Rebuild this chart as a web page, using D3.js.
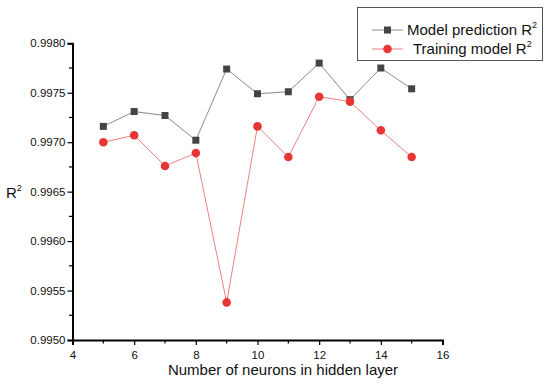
<!DOCTYPE html>
<html><head><meta charset="utf-8">
<script src="https://cdn.jsdelivr.net/npm/d3@7"></script>
<style>body{margin:0;background:#fff}svg{display:block;font-family:"Liberation Sans",Arial,sans-serif}</style>
</head><body><svg id="c" width="550" height="386"></svg>
<script>
const neurons = [5,6,7,8,9,10,11,12,13,14,15];
const modelPrediction = [0.99716,0.99731,0.99727,0.99702,0.99774,0.99749,0.99751,0.99780,0.99743,0.99775,0.99754];
const trainingModel = [0.99700,0.99707,0.99676,0.99689,0.99538,0.99716,0.99685,0.99746,0.99741,0.99712,0.99685];
const seriesNames = ["Model prediction R", "Training model R"];
const xTicks = [4,6,8,10,12,14,16];
const yTicks = [0.9950,0.9955,0.9960,0.9965,0.9970,0.9975,0.9980];

const svg = d3.select("#c");
const x = d3.scaleLinear().domain([4,16]).range([72.5,442.5]);
const y = d3.scaleLinear().domain([0.9950,0.9980]).range([340,43.3]);

const minorX = d3.range(5,16,2);
const minorY = d3.range(0,6).map(i=>0.99525+i*0.0005);
const g = svg.append("g");
g.selectAll(".mx").data(minorX).join("line")
  .attr("x1",d=>x(d)).attr("x2",d=>x(d)).attr("y1",340).attr("y2",343.5)
  .attr("stroke","#000").attr("stroke-width",1.2);
g.selectAll(".my").data(minorY).join("line")
  .attr("y1",d=>y(d)).attr("y2",d=>y(d)).attr("x1",72.5).attr("x2",69)
  .attr("stroke","#000").attr("stroke-width",1.2);

const xAxis = svg.append("g").attr("transform","translate(0,340)")
  .call(d3.axisBottom(x).tickValues(xTicks).tickSize(5).tickPadding(6).tickFormat(d3.format("d")));
const yAxis = svg.append("g").attr("transform","translate(72.5,0)")
  .call(d3.axisLeft(y).tickValues(yTicks).tickSize(5).tickPadding(2).tickFormat(d3.format(".4f")));
[xAxis,yAxis].forEach(a=>{
  a.select(".domain").attr("stroke","#000").attr("stroke-width",2);
  a.selectAll(".tick line").attr("stroke","#000").attr("stroke-width",1.2);
  a.selectAll(".tick text").attr("fill","#111").style("font-size","11.5px").style("font-family","Liberation Sans, Arial, sans-serif");
});

svg.append("text").attr("x",283).attr("y",375).attr("text-anchor","middle")
  .style("font-size","15px").attr("fill","#111").text("Number of neurons in hidden layer");
const rl = svg.append("text").attr("x",6).attr("y",198).style("font-size","15px").attr("fill","#111");
rl.append("tspan").text("R");
rl.append("tspan").attr("dy",-7).style("font-size","9px").text("2");

const line = d3.line().x((d,i)=>x(neurons[i])).y(d=>y(d));
svg.append("path").datum(modelPrediction).attr("d",line).attr("fill","none").attr("stroke","#8a8a8a").attr("stroke-width",1);
svg.append("path").datum(trainingModel).attr("d",line).attr("fill","none").attr("stroke","#f08080").attr("stroke-width",1);
svg.selectAll(".sq").data(modelPrediction).join("rect")
  .attr("x",(d,i)=>x(neurons[i])-3.5).attr("y",d=>y(d)-3.5).attr("width",7).attr("height",7).attr("fill","#444");
svg.selectAll(".ci").data(trainingModel).join("circle")
  .attr("cx",(d,i)=>x(neurons[i])).attr("cy",d=>y(d)).attr("r",4.3).attr("fill","#e83535");

const lg = svg.append("g");
lg.append("rect").attr("x",357.5).attr("y",7.5).attr("width",185).attr("height",53).attr("fill","#fff").attr("stroke","#555").attr("stroke-width",1);
const rows = [{y:30,c:"#8a8a8a",m:"sq",tx:407},{y:49,c:"#f08080",m:"ci",tx:413}];
rows.forEach((r,i)=>{
  lg.append("line").attr("x1",372).attr("x2",403).attr("y1",r.y).attr("y2",r.y).attr("stroke",r.c).attr("stroke-width",1);
  if(r.m==="sq") lg.append("rect").attr("x",384).attr("y",r.y-3.5).attr("width",7).attr("height",7).attr("fill","#444");
  else lg.append("circle").attr("cx",387.5).attr("cy",r.y).attr("r",4.3).attr("fill","#e83535");
  const t = lg.append("text").attr("x",r.tx).attr("y",r.y+5).style("font-size","15px").attr("fill","#111");
  t.append("tspan").text(seriesNames[i]);
  t.append("tspan").attr("dy",-7).style("font-size","9px").text("2");
});
</script></body></html>
